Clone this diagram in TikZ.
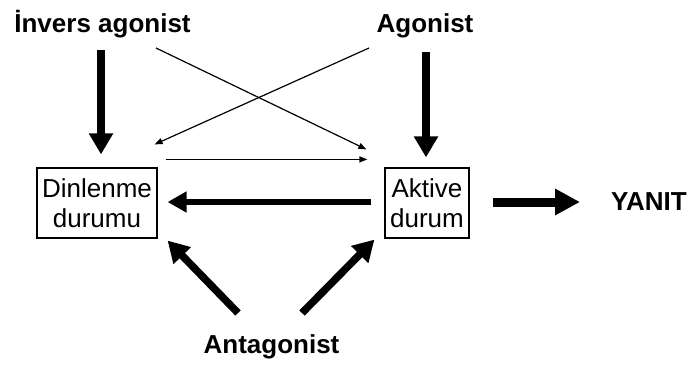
\documentclass[tikz,border=0pt]{standalone}
\usepackage{fontspec}
\setmainfont{Liberation Sans}
\usetikzlibrary{arrows.meta}
\begin{document}
\begin{tikzpicture}[x=1pt,y=-1pt,
  lbl/.style={inner sep=0pt,font=\fontsize{26pt}{30pt}\selectfont\bfseries,anchor=base},
  state/.style={draw,line width=1.2pt,inner sep=0pt,align=center,font=\fontsize{26pt}{30pt}\selectfont},
  bigarrow/.style={line width=7.5pt,-{Triangle[length=21pt,width=23pt]}},
  midarrow/.style={line width=6pt,-{Triangle[length=19pt,width=20pt]}},
  yarrow/.style={line width=9pt,-{Triangle[length=25pt,width=25pt]}},
  thinarrow/.style={line width=1.2pt,-{Triangle[length=8pt,width=6pt]}}]
\useasboundingbox[fill=white] (0,0) rectangle (691,365);
\node[lbl] (inv) at (102.5,32) {İnvers agonist};
\node[lbl] (ago) at (425,32) {Agonist};
\node[lbl] (ant) at (271.5,353) {Antagonist};
\node[lbl,anchor=west] (yan) at (611,202) {YANIT};
\node[state,minimum width=120pt,minimum height=70pt] (din) at (97,203) {Dinlenme\\durumu};
\node[state,minimum width=84pt,minimum height=70pt] (akt) at (427,203) {Aktive\\durum};
% vertical thick arrows
\draw[bigarrow] ([shift={(-1.5,18)}]inv.base) -- ([shift={(4,-13)}]din.north);
\draw[bigarrow] ([shift={(1,20)}]ago.base) -- ([shift={(-1,-10)}]akt.north);
% thin crossing arrows
\draw[thinarrow] ([shift={(53.5,16)}]inv.base) -- ([shift={(-18,-18)}]akt.north west);
\draw[thinarrow] ([shift={(-56,16)}]ago.base) -- ([shift={(-3,-23)}]din.north east);
\draw[thinarrow] ([shift={(8,-8)}]din.north east) -- ([shift={(-17,-8)}]akt.north west);
% thick back arrow
\draw[midarrow] ([shift={(-13,-1)}]akt.west) -- ([shift={(10,-1)}]din.east);
% response arrow
\draw[yarrow] ([shift={(23,-1)}]akt.east) -- ([xshift=-31pt]yan.west);
% antagonist arrows
\draw[bigarrow] ([shift={(-33.5,-40)}]ant.base) -- ([shift={(10,2)}]din.south east);
\draw[bigarrow] ([shift={(30.5,-40)}]ant.base) -- ([shift={(-10,1)}]akt.south west);
\end{tikzpicture}
\end{document}
